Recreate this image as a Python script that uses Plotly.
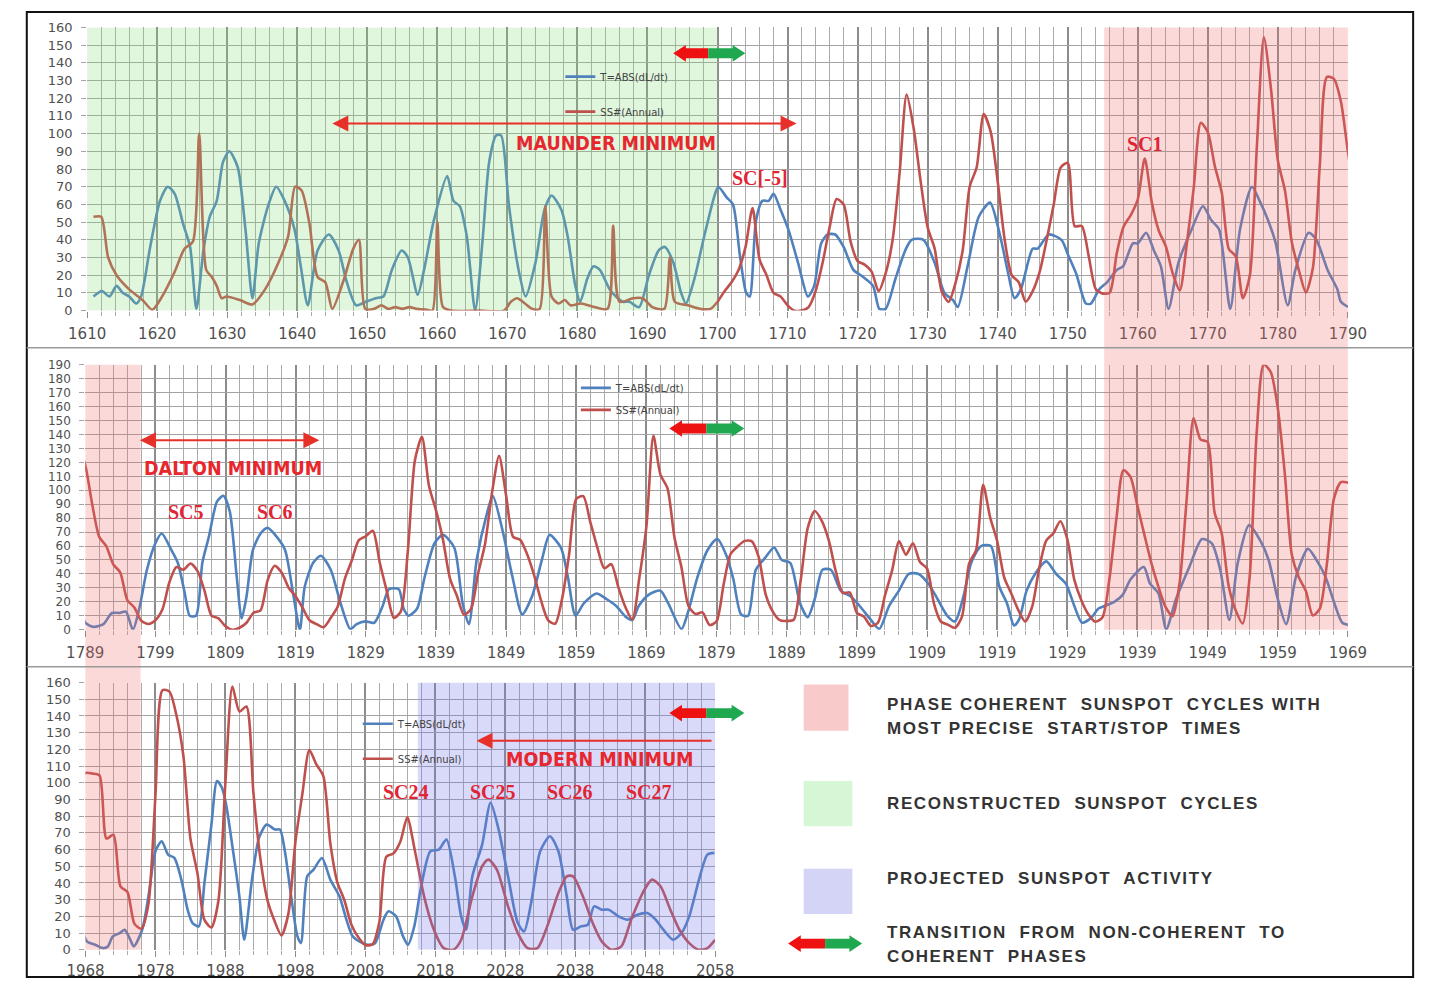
import plotly.graph_objects as go

W, H = 1437, 988

# ---------------- data ----------------
# reconstructed SS# (1610-1699)
ss_recon_years = [1610.9, 1612.0, 1613.0, 1614.2, 1616.0, 1617.9, 1619.3, 1620.7, 1622.5, 1623.9,
                  1625.1, 1626.0, 1627.0, 1627.8, 1628.5, 1629.2, 1629.9, 1631.8, 1633.6, 1635.4,
                  1637.3, 1638.7, 1639.7, 1640.6, 1641.7, 1642.9, 1644.0, 1645.0, 1646.6, 1648.0,
                  1648.8, 1649.7, 1651.0, 1652.0, 1653.0, 1654.0, 1655.0, 1656.0, 1657.0, 1658.5,
                  1659.3, 1660.0, 1660.8, 1662.0, 1666.0, 1669.5, 1670.5, 1671.4, 1672.5, 1673.5,
                  1674.6, 1675.4, 1676.3, 1677.3, 1678.2, 1679.0, 1680.5, 1682.4, 1684.3, 1685.1,
                  1686.0, 1687.9, 1689.3, 1690.7, 1692.4, 1693.2, 1693.9, 1695.8, 1697.5, 1699.0]
ss_recon_values = [53, 53, 30, 20, 12, 6, 0.5, 8, 22, 35,
                   39, 100, 23, 19, 14, 7, 8, 6, 3.5, 12,
                   27, 42, 70, 68, 50, 19, 16, 1, 17, 35,
                   40, 1, 1, 3, 1, 2, 1, 2, 1, 0.5,
                   0, 50, 2, 0, 0, 0, 5, 7, 4, 1,
                   1, 59, 8, 4, 6, 3, 4, 2, 1, 48,
                   5, 7, 7, 2, 1, 30, 5, 3, 1, 1]

# annual SS# 1700-2014
ss_annual_first_year = 1700
ss_annual_values = [
    5, 11, 16, 23, 36, 58, 29, 20, 10, 8,
    3, 0, 0, 2, 11, 27, 47, 63, 60, 39,
    28, 26, 22, 11, 21, 40, 78, 122, 103, 73,
    47, 35, 11, 5, 16, 34, 70, 81, 111, 101,
    73, 40, 20, 16, 5, 11, 22, 40, 60, 80.9,
    83.4, 47.7, 47.8, 30.7, 12.2, 9.6, 10.2, 32.4, 47.6, 54,
    62.9, 85.9, 61.2, 45.1, 36.4, 20.9, 11.4, 37.8, 69.8, 106.1,
    100.8, 81.6, 66.5, 34.8, 30.6, 7, 19.8, 92.5, 154.4, 125.9,
    84.8, 68.1, 38.5, 22.8, 10.2, 24.1, 82.9, 132, 130.9, 118.1,
    89.9, 66.6, 60, 46.9, 41, 21.3, 16, 6.4, 4.1, 6.8,
    14.5, 34, 45, 43.1, 47.5, 42.2, 28.1, 10.1, 8.1, 2.5,
    0, 1.4, 5, 12.2, 13.9, 35.4, 45.8, 41.1, 30.1, 23.9,
    15.6, 6.6, 4, 1.8, 8.5, 16.6, 36.3, 49.6, 64.2, 67,
    70.9, 47.8, 27.5, 8.5, 13.2, 56.9, 121.5, 138.3, 103.2, 85.7,
    64.6, 36.7, 24.2, 10.7, 15, 40.1, 61.5, 98.5, 124.7, 96.3,
    66.6, 64.5, 54.1, 39, 20.6, 6.7, 4.3, 22.7, 54.8, 93.8,
    95.8, 77.2, 59.1, 44, 47, 30.5, 16.3, 7.3, 37.6, 74,
    139, 111.2, 101.6, 66.2, 44.7, 17, 11.3, 12.4, 3.4, 6,
    32.3, 54.3, 59.7, 63.7, 63.5, 52.2, 25.4, 13.1, 6.8, 6.3,
    7.1, 35.6, 73, 85.1, 78, 64, 41.8, 26.2, 26.7, 12.1,
    9.5, 2.7, 5, 24.4, 42, 63.5, 53.8, 62, 48.5, 43.9,
    18.6, 5.7, 3.6, 1.4, 9.6, 47.4, 57.1, 103.9, 80.6, 63.6,
    37.6, 26.1, 14.2, 5.8, 16.7, 44.3, 63.9, 69, 77.8, 64.9,
    35.7, 21.2, 11.1, 5.7, 8.7, 36.1, 79.7, 114.4, 109.6, 88.8,
    67.8, 47.5, 30.6, 16.3, 9.6, 33.2, 92.6, 151.6, 136.3, 134.7,
    83.9, 69.4, 31.5, 13.9, 4.4, 38, 141.7, 190.2, 184.8, 159,
    112.3, 53.9, 37.6, 27.9, 10.2, 15.1, 47, 93.8, 105.9, 105.5,
    104.5, 66.6, 68.9, 38, 34.5, 15.5, 12.6, 27.5, 92.5, 155.4,
    154.6, 140.4, 115.9, 66.6, 45.9, 17.9, 13.4, 29.4, 100.2, 157.6,
    142.6, 145.7, 94.3, 54.6, 29.9, 17.5, 8.6, 21.5, 64.3, 93.3,
    119.6, 111, 104, 63.7, 40.4, 29.8, 15.2, 7.5, 2.9, 3.1,
    16.5, 55.7, 57.6, 64.7, 79.3]

# projected SS# 2015-2058
ss_proj_years = [2015.1, 2016.4, 2017.8, 2019.2, 2020.6, 2021.7, 2023.3, 2024.7, 2025.6, 2026.8,
                 2028.4, 2029.8, 2031.2, 2032.6, 2034.0, 2035.6, 2036.8, 2037.7, 2039.1, 2040.5,
                 2041.8, 2043.2, 2044.6, 2046.0, 2047.9, 2049.0, 2050.2, 2051.6, 2052.9, 2054.3,
                 2055.7, 2056.9, 2058.0]
ss_proj_values = [59, 32, 12, 1, 0, 6, 32, 50, 54, 48,
                  26, 10, 1, 1, 14, 34, 44, 44, 32, 16,
                  5, 0, 2, 18, 36, 42, 38, 24, 12, 4,
                  0, 1, 6]

# T = ABS(dL/dt)
t_years = [
    1610.9, 1612.1, 1613.2, 1614.2, 1615.1, 1616.0, 1617.0, 1617.7, 1619.0, 1620.4,
    1621.5, 1622.5, 1623.7, 1624.7, 1625.6, 1626.6, 1627.5, 1628.5, 1629.4, 1630.3,
    1631.5, 1632.6, 1633.6, 1634.5, 1635.9, 1637.0, 1638.2, 1639.6, 1640.5, 1641.5,
    1642.9, 1644.5, 1645.9, 1647.0, 1648.4, 1649.8, 1651.2, 1652.3, 1653.5, 1654.9,
    1655.8, 1657.2, 1658.1, 1659.5, 1661.4, 1662.3, 1663.2, 1664.2, 1665.4, 1666.5,
    1667.4, 1668.4, 1669.1, 1670.2, 1671.6, 1672.6, 1674.0, 1675.3, 1676.3, 1677.7,
    1678.6, 1679.7, 1680.4, 1681.4, 1682.3, 1683.2, 1684.6, 1685.5, 1686.5, 1687.4,
    1688.8, 1690.2, 1691.6, 1692.5, 1693.7, 1694.8, 1695.5, 1696.7, 1698.1, 1699.5,
    1700.1, 1701.3, 1702.2, 1703.2, 1704.1, 1704.6, 1705.5, 1706.4, 1707.3, 1708.0,
    1709.0, 1710.1, 1711.5, 1712.9, 1713.8, 1714.8, 1715.7, 1716.8, 1718.0, 1719.4,
    1720.8, 1722.2, 1723.1, 1724.0, 1725.4, 1726.8, 1727.7, 1729.4, 1731.0, 1732.4,
    1733.6, 1734.3, 1735.7, 1737.3, 1738.9, 1740.3, 1741.5, 1742.4, 1743.3, 1745.0,
    1745.7, 1747.3, 1749.1, 1750.1, 1751.2, 1752.6, 1753.3, 1754.5, 1755.6, 1757.0,
    1757.9, 1759.3, 1760.0, 1761.2, 1762.3, 1763.3, 1764.4, 1765.8, 1767.7, 1769.3,
    1770.5, 1771.6, 1773.2, 1774.6, 1776.3, 1777.4, 1778.6, 1779.7, 1781.4, 1782.5,
    1784.4, 1785.5, 1787.1, 1788.5, 1789.0, 1790.2, 1791.6, 1792.8, 1793.9, 1794.8,
    1795.8, 1796.7, 1797.8, 1799.0, 1799.9, 1801.3, 1802.2, 1803.2, 1803.9, 1804.8,
    1805.7, 1806.6, 1807.8, 1808.7, 1809.6, 1810.6, 1811.3, 1812.0, 1812.9, 1814.0,
    1815.0, 1816.4, 1817.5, 1818.7, 1819.6, 1820.3, 1821.5, 1822.6, 1824.0, 1825.4,
    1826.8, 1827.7, 1828.9, 1830.2, 1831.4, 1832.3, 1833.7, 1834.4, 1835.1, 1836.3,
    1837.4, 1838.8, 1840.0, 1841.6, 1842.8, 1843.7, 1844.8, 1846.2, 1847.1, 1848.5,
    1849.9, 1851.3, 1852.7, 1854.1, 1855.2, 1856.8, 1857.8, 1858.9, 1860.1, 1861.9,
    1863.3, 1864.7, 1866.1, 1867.0, 1867.9, 1869.3, 1871.0, 1872.1, 1874.0, 1874.9,
    1876.3, 1877.7, 1879.1, 1880.5, 1881.4, 1882.5, 1883.5, 1884.6, 1886.0, 1887.2,
    1888.3, 1889.5, 1890.9, 1892.0, 1893.0, 1894.1, 1895.3, 1896.7, 1898.1, 1899.4,
    1901.0, 1902.2, 1903.6, 1905.0, 1906.4, 1907.8, 1909.2, 1910.5, 1911.9, 1913.0,
    1914.2, 1915.3, 1916.7, 1918.1, 1919.3, 1920.4, 1921.4, 1922.1, 1923.2, 1924.4,
    1926.0, 1927.4, 1928.8, 1930.0, 1931.1, 1932.5, 1933.4, 1934.3, 1935.7, 1936.9,
    1938.0, 1939.9, 1940.8, 1942.0, 1943.1, 1944.5, 1946.4, 1948.2, 1949.6, 1950.8,
    1952.1, 1953.3, 1954.9, 1956.5, 1957.7, 1958.9, 1960.2, 1961.6, 1963.3, 1964.4,
    1965.8, 1967.2, 1968.2, 1969.4, 1970.5, 1971.2, 1971.9, 1972.9, 1973.6, 1974.3,
    1974.9, 1976.1, 1977.0, 1978.0, 1978.9, 1979.8, 1980.7, 1981.7, 1982.6, 1983.3,
    1984.2, 1985.0, 1986.0, 1986.8, 1987.5, 1988.1, 1989.1, 1990.0, 1990.7, 1991.8,
    1992.8, 1993.9, 1995.1, 1995.8, 1996.5, 1997.4, 1998.3, 1998.8, 1999.7, 2000.6,
    2001.8, 2003.0, 2004.3, 2005.3, 2006.2, 2007.6, 2008.5, 2009.4, 2010.6, 2011.3,
    2012.4, 2013.4, 2014.1, 2015.0, 2015.9, 2017.3, 2018.5, 2019.6, 2020.8, 2021.7,
    2022.4, 2023.3, 2024.7, 2025.9, 2027.0, 2028.4, 2029.8, 2030.7, 2031.7, 2033.0,
    2034.4, 2035.6, 2036.8, 2037.7, 2038.8, 2039.8, 2040.7, 2041.8, 2042.8, 2044.2,
    2045.5, 2046.9, 2048.3, 2049.5, 2050.6, 2052.0, 2053.2, 2054.3, 2055.7, 2056.9,
    2057.9]
t_values = [
    8, 11, 8, 14, 10, 8, 4, 8, 36, 62,
    70, 66, 49, 36, 1, 34, 53, 62, 84, 90,
    81, 46, 7, 38, 60, 70, 62, 46, 25, 3,
    34, 43, 34, 17, 3, 5, 7, 8, 23, 34,
    30, 9, 23, 51, 76, 62, 59, 42, 0, 42,
    84, 99, 99, 60, 23, 8, 27, 57, 65, 57,
    42, 14, 5, 18, 25, 23, 12, 8, 5, 5,
    2, 20, 34, 36, 27, 10, 4, 18, 42, 64,
    70, 64, 60, 31, 10, 8, 51, 62, 62, 66,
    57, 46, 27, 8, 14, 38, 43, 43, 36, 23,
    19, 14, 1, 1, 18, 34, 40, 40, 27, 10,
    6, 2, 25, 53, 61, 43, 21, 7, 12, 35,
    35, 43, 40, 31, 21, 4, 4, 12, 16, 23,
    25, 38, 38, 44, 34, 25, 1, 27, 46, 59,
    51, 46, 1, 46, 70, 62, 51, 38, 3, 23,
    44, 40, 23, 12, 5, 2, 4, 12, 12, 13,
    0, 15, 43, 62, 69, 57, 48, 26, 10, 10,
    48, 66, 92, 96, 85, 38, 8, 24, 57, 69,
    73, 66, 57, 24, 0, 31, 48, 53, 43, 19,
    0.5, 4, 6, 5, 17, 29, 29, 15, 10, 15,
    38, 62, 68, 59, 19, 4, 50, 82, 96, 71,
    38, 11, 24, 50, 68, 59, 38, 10, 19, 26,
    22, 17, 9, 7, 17, 25, 28, 19, 0.5, 12,
    38, 57, 65, 52, 36, 11, 10, 43, 52, 59,
    50, 48, 19, 9, 22, 43, 43, 28, 24, 17,
    7, 0.5, 17, 28, 40, 40, 33, 22, 10, 6,
    24, 48, 60, 60, 31, 19, 3, 7, 28, 40,
    49, 40, 33, 17, 5, 9, 15, 17, 20, 25,
    36, 45, 33, 26, 0.5, 22, 45, 65, 62, 43,
    7, 48, 75, 64, 50, 24, 4, 38, 58, 51,
    38, 17, 5, 3, 1, 2, 8, 10, 12, 7,
    2, 12, 32, 59, 65, 57, 55, 42, 24, 16,
    14, 40, 75, 101, 97, 87, 59, 32, 6, 42,
    67, 75, 72, 72, 59, 32, 8, 4, 44, 48,
    55, 42, 32, 18, 8, 4, 3, 4, 18, 23,
    20, 8, 3, 14, 36, 59, 60, 66, 44, 20,
    12, 44, 63, 88, 73, 44, 16, 11, 28, 59,
    68, 59, 32, 12, 14, 15, 26, 24, 24, 20,
    18, 21, 22, 18, 12, 6, 10, 20, 42, 57,
    58]

ss_years = ss_recon_years + list(range(ss_annual_first_year, ss_annual_first_year + len(ss_annual_values))) + ss_proj_years
ss_values = ss_recon_values + ss_annual_values + ss_proj_values

panel_ranges = [(1610, 1790, 160), (1789, 1969, 190), (1968, 2058, 160)]

BLUE = '#4f81bd'
RED = '#c0504d'


def px(x):
    return x / W


def py(y):
    return 1 - y / H


x_domains = [[70 / W, 1365 / W], [68 / W, 1365 / W], [68.3 / W, 715 / W]]
y_domains = [[py(308.3), py(20.7)], [py(632.3), py(363.3)], [py(957.3), py(686)]]
legend_names = ['legend', 'legend2', 'legend3']
label_standoff = [3, 3, 1]

fig = go.Figure()

for i, (lo, hi, ymax) in enumerate(panel_ranges):
    sfx = '' if i == 0 else str(i + 1)
    tx = [x for x in t_years if lo - 2 <= x <= hi + 2]
    tv = [v for x, v in zip(t_years, t_values) if lo - 2 <= x <= hi + 2]
    sx = [x for x in ss_years if lo - 2 <= x <= hi + 2]
    sv = [v for x, v in zip(ss_years, ss_values) if lo - 2 <= x <= hi + 2]
    fig.add_trace(go.Scatter(x=tx, y=tv, mode='lines', name='T=ABS(dL/dt)',
                             line=dict(color=BLUE, width=2.6, shape='spline', smoothing=0.7),
                             xaxis='x' + sfx, yaxis='y' + sfx, legend=legend_names[i],
                             legendgroup='t' + str(i), hoverinfo='skip'))
    fig.add_trace(go.Scatter(x=sx, y=sv, mode='lines', name='SS#(Annual)',
                             line=dict(color=RED, width=2.6, shape='spline', smoothing=0.7),
                             xaxis='x' + sfx, yaxis='y' + sfx, legend=legend_names[i],
                             legendgroup='s' + str(i), hoverinfo='skip'))

tickfont_x = dict(family='DejaVu Sans', size=15, color='#505050')
tickfont_y = dict(family='DejaVu Sans', size=13, color='#505050')

layout = dict(width=W, height=H, margin=dict(l=0, r=0, t=0, b=0), autosize=False,
              paper_bgcolor='white', plot_bgcolor='white', showlegend=True)

for i, (lo, hi, ymax) in enumerate(panel_ranges):
    sfx = '' if i == 0 else str(i + 1)
    layout['xaxis' + sfx] = dict(
        domain=x_domains[i], range=[lo, hi], anchor='y' + sfx,
        tick0=lo, dtick=10, tickmode='linear',
        showgrid=True, gridcolor='#8c8c8c', gridwidth=1.6,
        minor=dict(tick0=lo, dtick=2, showgrid=True, gridcolor='#ababab', gridwidth=1,
                   ticks='outside', ticklen=4, tickcolor='#aaaaaa'),
        ticks='outside', ticklen=6, tickcolor='#8c8c8c', ticklabelstandoff=label_standoff[i],
        tickfont=tickfont_x, zeroline=False, showline=False, fixedrange=True)
    layout['yaxis' + sfx] = dict(
        domain=y_domains[i], range=[0, ymax], anchor='x' + sfx,
        tick0=0, dtick=10, tickmode='linear',
        showgrid=True, gridcolor='#a3a3a3', gridwidth=1.2,
        ticks='outside', ticklen=5, tickcolor='#a3a3a3', ticklabelstandoff=6,
        tickfont=tickfont_y if i != 1 else dict(tickfont_y, size=12),
        zeroline=False, showline=False, fixedrange=True)

leg_common = dict(xanchor='left', yanchor='top', bgcolor='rgba(0,0,0,0)',
                  font=dict(family='DejaVu Sans', size=10, color='#444444'),
                  traceorder='grouped', itemclick=False, itemdoubleclick=False)
layout['legend'] = dict(x=px(556), y=py(56), tracegroupgap=16, **leg_common)
layout['legend2'] = dict(x=px(572), y=py(372), tracegroupgap=3, **leg_common)
layout['legend3'] = dict(x=px(348), y=py(713), tracegroupgap=16, **leg_common)

fig.update_layout(**layout)

# ---------------- shaded regions (drawn above the lines, translucent) ----------------
PINK = 'rgba(240,110,110,0.26)'
GREEN = 'rgba(130,220,120,0.25)'
VIOLET = 'rgba(120,120,235,0.28)'
shapes = []
shapes.append(dict(type='rect', xref='x', yref='y', x0=1609, x1=1700, y0=0, y1=160,
                   fillcolor=GREEN, line=dict(width=0), layer='above'))
shapes.append(dict(type='rect', xref='x', yref='paper', x0=1755.2, x1=1790,
                   y0=py(632.3), y1=py(20.7), fillcolor=PINK, line=dict(width=0), layer='above'))
shapes.append(dict(type='rect', xref='x2', yref='paper', x0=1789, x1=1796.9,
                   y0=py(957.3), y1=py(363.3), fillcolor=PINK, line=dict(width=0), layer='above'))
shapes.append(dict(type='rect', xref='x3', yref='y3', x0=2015.5, x1=2058, y0=0, y1=160,
                   fillcolor=VIOLET, line=dict(width=0), layer='above'))

# frame and separators
shapes.append(dict(type='rect', xref='paper', yref='paper', x0=px(8), x1=px(1432),
                   y0=py(985), y1=py(5), line=dict(color='#111111', width=2), layer='above'))
for yy in (346, 670):
    shapes.append(dict(type='line', xref='paper', yref='paper', x0=px(8), x1=px(1432),
                       y0=py(yy), y1=py(yy), line=dict(color='#9a9a9a', width=1.5), layer='above'))


# transition double arrows (red / green)
def arrow_paths(xl, xm, xr, yc):
    hl, hh, bh = 13, 8.5, 5
    red = [(xl, yc), (xl + hl, yc - hh), (xl + hl, yc - bh), (xm, yc - bh), (xm, yc + bh),
           (xl + hl, yc + bh), (xl + hl, yc + hh)]
    green = [(xr, yc), (xr - hl, yc - hh), (xr - hl, yc - bh), (xm, yc - bh), (xm, yc + bh),
             (xr - hl, yc + bh), (xr - hl, yc + hh)]

    def mk(pts):
        return 'M ' + ' L '.join(f'{px(a):.5f},{py(b):.5f}' for a, b in pts) + ' Z'
    return mk(red), mk(green)


for (xl, xm, xr, yc) in [(672, 708, 746, 47), (668, 706, 745, 428), (668, 706, 745, 717), (790, 828, 866, 951)]:
    pr, pg = arrow_paths(xl, xm, xr, yc)
    shapes.append(dict(type='path', xref='paper', yref='paper', path=pr,
                       fillcolor='#ee1111', line=dict(width=0), layer='above'))
    shapes.append(dict(type='path', xref='paper', yref='paper', path=pg,
                       fillcolor='#1fa84f', line=dict(width=0), layer='above'))

# legend colour squares
shapes.append(dict(type='rect', xref='paper', yref='paper', x0=px(806), x1=px(852), y0=py(735), y1=py(688),
                   fillcolor='#f8caca', line=dict(width=0)))
shapes.append(dict(type='rect', xref='paper', yref='paper', x0=px(806), x1=px(856), y0=py(832), y1=py(786),
                   fillcolor='#d5f7d5', line=dict(width=0)))
shapes.append(dict(type='rect', xref='paper', yref='paper', x0=px(806), x1=px(856), y0=py(921), y1=py(875),
                   fillcolor='#d4d4f6', line=dict(width=0)))

fig.update_layout(shapes=shapes)

# ---------------- annotations ----------------
ann = []
BIG = dict(family='Liberation Sans Narrow, DejaVu Sans Condensed, Liberation Sans, sans-serif', size=19.5, color='#e8262d')
SERIF = dict(family='Liberation Serif, DejaVu Serif, serif', size=20, color='#e02535')


def txt(x, y, text, font, xref, yref, xanchor='center'):
    ann.append(dict(x=x, y=y, xref=xref, yref=yref, text=text, showarrow=False,
                    font=font, xanchor=xanchor, yanchor='middle'))


txt(1685.5, 94.6, '<b>MAUNDER MINIMUM</b>', BIG, 'x', 'y')
txt(1706.0, 75.0, '<b>SC[-5]</b>', SERIF, 'x', 'y')
txt(1761.0, 94.0, '<b>SC1</b>', SERIF, 'x', 'y')
txt(1810.1, 115.3, '<b>DALTON MINIMUM</b>', BIG, 'x2', 'y2')
txt(1803.4, 84.3, '<b>SC5</b>', SERIF, 'x2', 'y2')
txt(1816.1, 84.3, '<b>SC6</b>', SERIF, 'x2', 'y2')
txt(2041.5, 114.0, '<b>MODERN MINIMUM</b>', BIG, 'x3', 'y3')
txt(2013.8, 94.5, '<b>SC24</b>', SERIF, 'x3', 'y3')
txt(2026.2, 94.5, '<b>SC25</b>', SERIF, 'x3', 'y3')
txt(2037.2, 94.5, '<b>SC26</b>', SERIF, 'x3', 'y3')
txt(2048.6, 94.5, '<b>SC27</b>', SERIF, 'x3', 'y3')

ARROW = '#e8302a'
# Maunder minimum arrow (both ends)
ann.append(dict(x=1645.0, y=105.7, ax=1711.5, ay=105.7, xref='x', yref='y', axref='x', ayref='y',
                text='', showarrow=True, arrowhead=2, startarrowhead=2, arrowside='end+start',
                arrowsize=1.6, startarrowsize=1.6, arrowwidth=2, arrowcolor=ARROW, standoff=0, startstandoff=0))
# Dalton minimum arrow (both ends)
ann.append(dict(x=1796.8, y=135.8, ax=1822.6, ay=135.8, xref='x2', yref='y2', axref='x2', ayref='y2',
                text='', showarrow=True, arrowhead=2, startarrowhead=2, arrowside='end+start',
                arrowsize=1.6, startarrowsize=1.6, arrowwidth=2, arrowcolor=ARROW, standoff=0, startstandoff=0))
# Modern minimum arrow (left end)
ann.append(dict(x=2023.9, y=125.2, ax=2057.7, ay=125.2, xref='x3', yref='y3', axref='x3', ayref='y3',
                text='', showarrow=True, arrowhead=2, arrowsize=1.6, arrowwidth=2,
                arrowcolor=ARROW, standoff=0))

LEG = dict(family='Liberation Sans, Arial, sans-serif', size=17, color='#333333')
NB = '\u00a0'


def ls(s):
    return '<span style="letter-spacing:1.6px"><b>' + s + '</b></span>'


legend_text = [
    (708, 'PHASE COHERENT' + NB + ' SUNSPOT' + NB + ' CYCLES WITH'),
    (733, 'MOST PRECISE' + NB + ' START/STOP' + NB + ' TIMES'),
    (809, 'RECONSTRUCTED' + NB + ' SUNSPOT' + NB + ' CYCLES'),
    (885, 'PROJECTED' + NB + ' SUNSPOT' + NB + ' ACTIVITY'),
    (940, 'TRANSITION' + NB + ' FROM' + NB + ' NON-COHERENT' + NB + ' TO'),
    (964, 'COHERENT' + NB + ' PHASES'),
]
for yy, s in legend_text:
    txt(px(890), py(yy), ls(s), LEG, 'paper', 'paper', xanchor='left')

fig.update_layout(annotations=ann)

POST = (
    "var gd=document.getElementById('{plot_id}');"
    "document.documentElement.style.margin='0';document.documentElement.style.padding='0';"
    "document.body.style.margin='0';document.body.style.padding='0';"
    "document.documentElement.style.overflow='hidden';document.body.style.overflow='hidden';"
    "gd.style.position='fixed';gd.style.left='0px';gd.style.top='0px';"
)

fig.write_html('out.html', config={'responsive': False, 'displayModeBar': False}, post_script=POST)
